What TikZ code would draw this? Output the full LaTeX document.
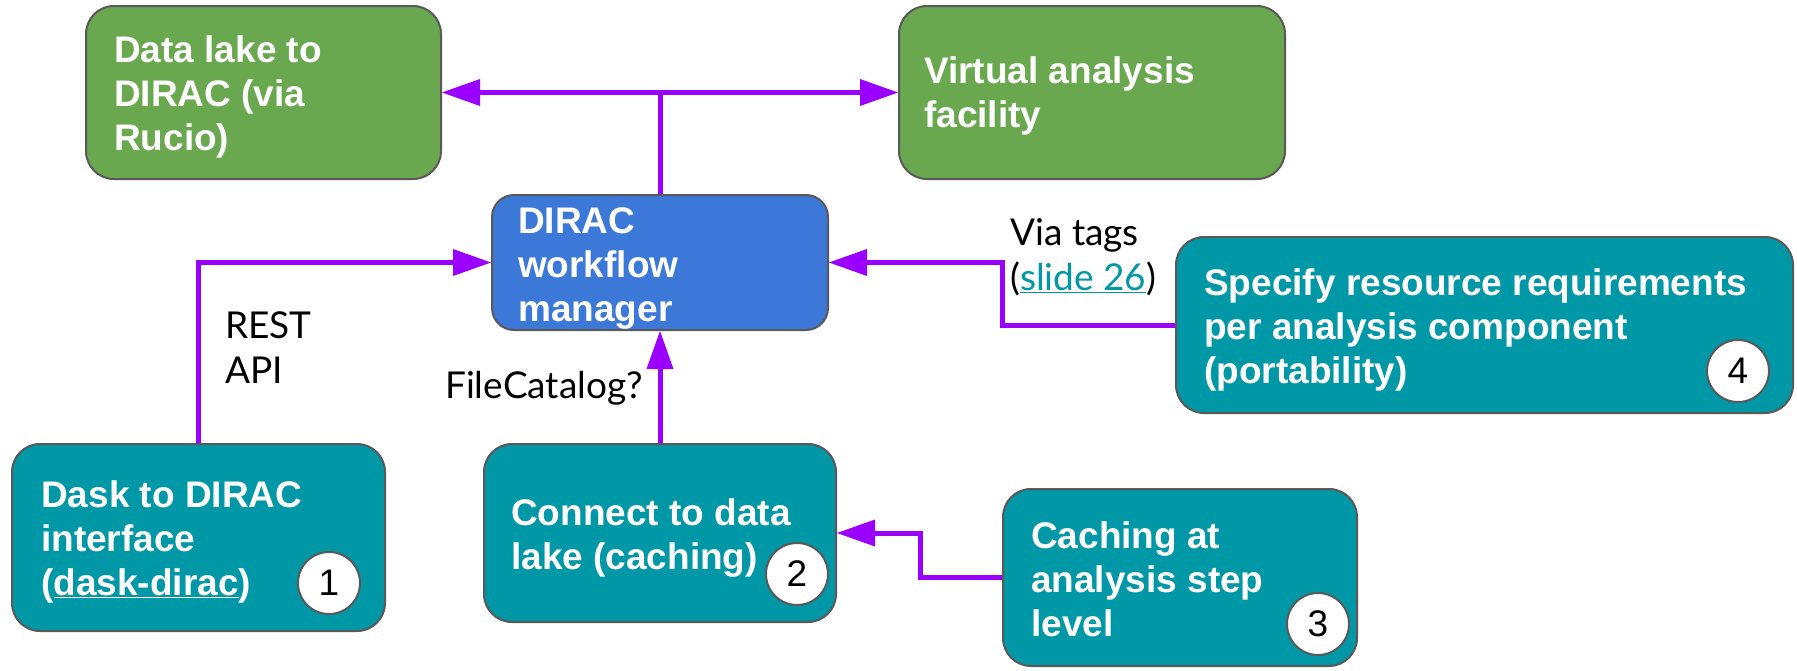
\documentclass[tikz,border=0pt]{standalone}
\usepackage{fontspec}
\setmainfont{Liberation Sans}
\newfontfamily\lato{Lato}
\usetikzlibrary{arrows.meta}
\definecolor{boxgreen}{HTML}{6AA84F}
\definecolor{boxblue}{HTML}{3C78D8}
\definecolor{boxteal}{HTML}{0097A7}
\definecolor{edgegray}{HTML}{595959}
\definecolor{arrowpurple}{HTML}{9900FF}
\definecolor{linkteal}{HTML}{0097A7}
\newcommand\ml[1]{\vtop{\halign{##\hfil\cr#1\crcr}}}
\newcommand\ulink[1]{\textcolor{linkteal}{\underline{#1}}}
\begin{document}
\begin{tikzpicture}[x=1pt,y=-1pt,
 box/.style={draw=edgegray, line width=2pt, fill=#1, inner sep=0pt, rounded corners=28pt},
 boxtext/.style={anchor=base west, inner sep=0pt, text=white, font=\fontsize{37}{44}\selectfont\bfseries},
 badge/.style={circle, draw=edgegray, line width=2pt, fill=white, minimum size=62pt, inner sep=0pt, font=\fontsize{37}{44}\selectfont},
 lbl/.style={anchor=base west, inner sep=0pt, font=\lato\fontsize{37}{45}\selectfont},
 flow/.style={draw=arrowpurple, line width=5pt, -{Triangle[length=38pt,width=27pt,line width=0pt]}},
 wire/.style={draw=arrowpurple, line width=5pt},
]
\useasboundingbox (0,0) rectangle (1797,670);
% boxes
\node[box=boxgreen, minimum width=355pt, minimum height=173pt] (dl) at (263.5,92.5) {};
\node[box=boxgreen, minimum width=386pt, minimum height=173pt] (vaf) at (1092,92.5) {};
\node[box=boxblue, minimum width=336pt, minimum height=135pt, rounded corners=22pt] (wm) at (660,262.5) {};
\node[box=boxteal, minimum width=617pt, minimum height=176pt] (spec) at (1484.5,325) {};
\node[box=boxteal, minimum width=373pt, minimum height=187pt] (dask) at (198.5,537.5) {};
\node[box=boxteal, minimum width=352pt, minimum height=178pt] (conn) at (660,533) {};
\node[box=boxteal, minimum width=354pt, minimum height=177pt] (cach) at (1180,577.5) {};
% connectors
\coordinate (hub) at (wm.north |- dl.east);
\draw[wire] (wm.north) -- (hub);
\draw[flow] (hub) -- (dl.east);
\draw[flow] (hub) -- (vaf.west);
\draw[flow] (dask.north) |- (wm.west);
\draw[flow] (conn.north) -- (wm.south);
\draw[flow] (cach.west) -- ++(-82,0) |- (conn.east);
\draw[flow] (spec.west) -- ++(-173,0) |- (wm.east);
% box texts
\node[boxtext] (dlt) at (114,62) {\ml{Data lake to\cr DIRAC (via\cr Rucio)}};
\node[boxtext] (vaft) at (924,83) {\ml{Virtual analysis\cr facility}};
\node[boxtext] (wmt) at (518,233) {\ml{DIRAC\cr workflow\cr manager}};
\node[boxtext] (spect) at (1204,295) {\ml{Specify resource requirements\cr per analysis component\cr (portability)}};
\node[boxtext] (daskt) at (41,507) {\ml{Dask to DIRAC\cr interface\cr (\underline{dask-dirac})}};
\node[boxtext] (connt) at (511,525) {\ml{Connect to data\cr lake (caching)}};
\node[boxtext] (cacht) at (1031,548) {\ml{Caching at\cr analysis step\cr level}};
% badges
\node[badge] (b1) at (329,583) {1};
\node[badge] (b2) at (797,574) {2};
\node[badge] (b3) at (1318,624) {3};
\node[badge] (b4) at (1738,371) {4};
% labels
\node[lbl] (rest) at (225,338) {\ml{REST\cr API}};
\node[lbl] (fc) at (445,398) {FileCatalog?};
\node[lbl] (via) at (1010,245) {\ml{Via tags\cr (\ulink{slide 26})}};
\end{tikzpicture}
\end{document}
